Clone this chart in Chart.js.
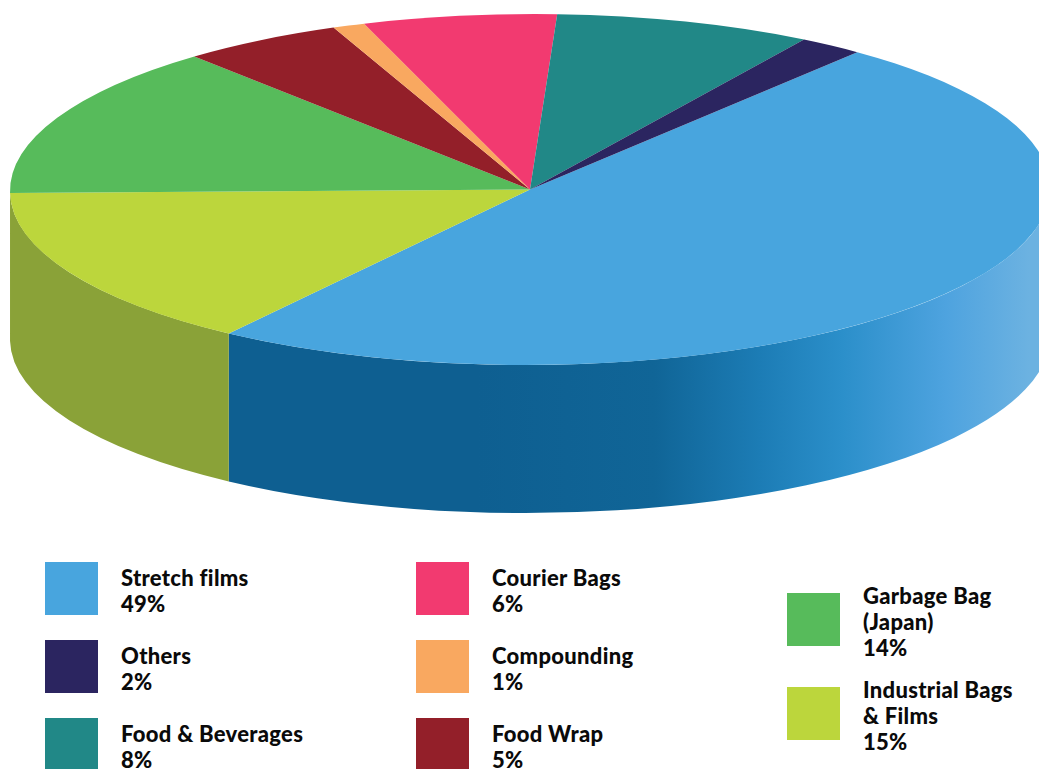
<!DOCTYPE html>
<html>
<head>
<meta charset="utf-8">
<title>Sales mix</title>
<script src="https://cdn.jsdelivr.net/npm/chart.js@4"></script>
<style>
    html, body { margin: 0; padding: 0; background: #fff; width: 1039px; height: 769px; overflow: hidden; }
    #salesMix { position: absolute; left: 0; top: 0; }
    .legend-col { position: absolute; }
    .legend-item { position: relative; height: 53px; padding-left: 76px; font: 900 22px/26px Lato, sans-serif; letter-spacing: 0.3px; color: #0a0a0a; }
    .legend-item i { position: absolute; left: 0; top: 0; width: 53px; height: 53px; }
    .legend-item span { display: block; position: relative; top: 3px; }
    #col1, #col2 { top: 562px; }
    #col1 .legend-item, #col2 .legend-item { margin-bottom: 25px; }
    #col1 { left: 45px; }
    #col2 { left: 416px; }
    #col3 { left: 787px; top: 593px; }
    #col3 .legend-item { margin-bottom: 41px; width: 165px; }
    #col3 .legend-item span { top: -10px; }
</style>
</head>
<body>
<canvas id="salesMix" width="1039" height="530"></canvas>
<div class="legend-col" id="col1"></div>
<div class="legend-col" id="col2"></div>
<div class="legend-col" id="col3"></div>

<script>
// Clockwise from the top right edge of the pie
const categories = ['Stretch films', 'Industrial Bags & Films', 'Garbage Bag (Japan)', 'Food Wrap', 'Compounding', 'Courier Bags', 'Food & Beverages', 'Others'];
const shares = [49, 15, 14, 5, 1, 6, 8, 2];
const sliceColors = ['#48a5de', '#bcd63c', '#57bb5b', '#931f29', '#f9a860', '#f23a70', '#218887', '#2b2560'];

// Legend columns, in the order they are printed
const legendCol1 = ['Stretch films', 'Others', 'Food & Beverages'];
const legendCol2 = ['Courier Bags', 'Compounding', 'Food Wrap'];
const legendCol3 = ['Garbage Bag (Japan)', 'Industrial Bags & Films'];

// Shape of the tilted disc on the page, the photo leans a little to the left
const disc = { x: 530, y: 189.5, rx: 520, ry: 175.5, depth: 148, lean: -0.003 };

// Side wall colour of a slice
function wallFill(ctx, index, cx, r) {
    if (index === 0) {
        const grad = ctx.createLinearGradient(cx - r, 0, cx + r, 0);
        grad.addColorStop(0.45, '#0e5f91');
        grad.addColorStop(0.62, '#106597');
        grad.addColorStop(0.72, '#1c7cb5');
        grad.addColorStop(0.80, '#2b8fca');
        grad.addColorStop(0.90, '#4ea3df');
        grad.addColorStop(0.98, '#6cb2e1');
        return grad;
    }
    return '#8aa238';
}

// Squashes the pie into an ellipse and puts the wall under it
const tiltPlugin = {
    id: 'tilt',
    beforeDatasetsDraw(chart) {
        const arcs = chart.getDatasetMeta(0).data;
        const { x, y, outerRadius } = arcs[0];
        const ctx = chart.ctx;
        ctx.save();
        ctx.translate(disc.x, disc.y);
        ctx.transform(1, disc.lean, 0, 1, 0, 0);
        ctx.scale(disc.rx / outerRadius, disc.ry / outerRadius);
        ctx.translate(-x, -y);

        const drop = disc.depth * outerRadius / disc.ry;
        arcs.forEach(function(arc, i) {
            const from = Math.max(arc.startAngle, 0);
            const to = Math.min(arc.endAngle, Math.PI);
            if (to <= from) return;
            ctx.beginPath();
            ctx.arc(x, y, outerRadius, from, to);
            ctx.arc(x, y + drop, outerRadius, to, from, true);
            ctx.closePath();
            ctx.fillStyle = wallFill(ctx, i, x, outerRadius);
            ctx.fill();
        });
    },
    afterDatasetsDraw(chart) {
        chart.ctx.restore();
    }
};

new Chart(document.getElementById('salesMix'), {
    type: 'pie',
    data: {
        labels: categories,
        datasets: [{
            data: shares,
            backgroundColor: sliceColors,
            borderWidth: 0,
            clip: false
        }]
    },
    options: {
        responsive: false,
        animation: false,
        events: [],
        rotation: 39,
        plugins: {
            legend: { display: false },
            tooltip: { enabled: false }
        }
    },
    plugins: [tiltPlugin]
});

// HTML legend
function fillLegend(colId, names) {
    const col = document.getElementById(colId);
    names.forEach(function(name) {
        const i = categories.indexOf(name);
        const item = document.createElement('div');
        item.className = 'legend-item';
        const swatch = document.createElement('i');
        swatch.style.background = sliceColors[i];
        const text = document.createElement('span');
        text.innerHTML = name.replace('&', '&amp;') + '<br>' + shares[i] + '%';
        item.appendChild(swatch);
        item.appendChild(text);
        col.appendChild(item);
    });
}
fillLegend('col1', legendCol1);
fillLegend('col2', legendCol2);
fillLegend('col3', legendCol3);
</script>
</body>
</html>
